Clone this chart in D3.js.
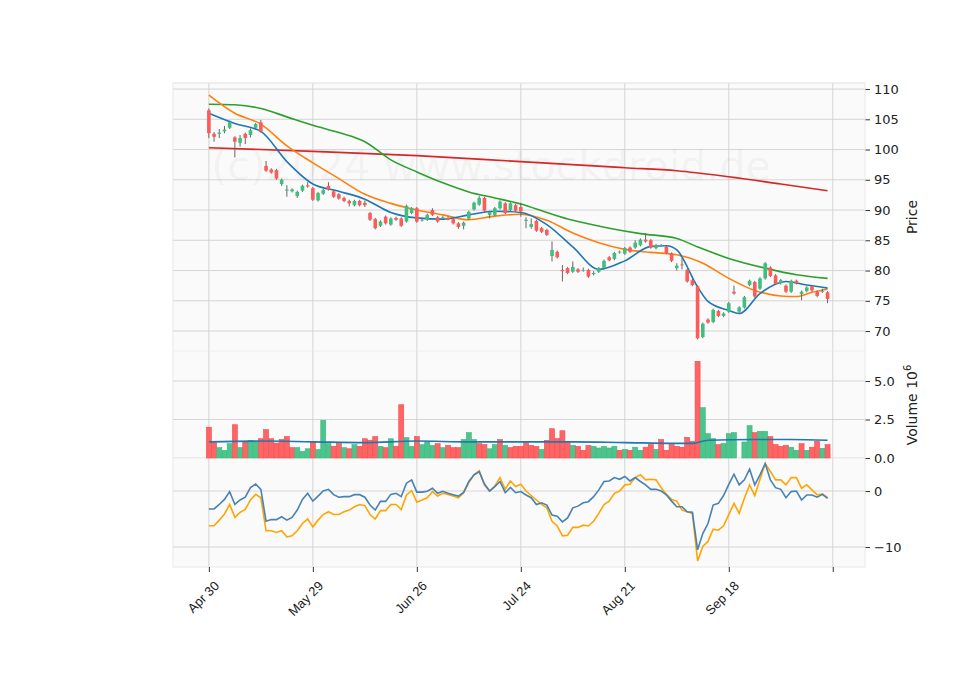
<!DOCTYPE html>
<html><head><meta charset="utf-8">
<script src="https://cdn.jsdelivr.net/npm/d3@7/dist/d3.min.js"></script>
<style>body{margin:0;background:#fff}svg{font-family:"DejaVu Sans",sans-serif}</style>
</head><body><svg id="c" width="960" height="690"></svg>
<script>
const tickIdx=[0,20,40,60,80,100,120];
const tickLabels=["Apr 30","May 29","Jun 26","Jul 24","Aug 21","Sep 18",""];
// [open, high, low, close]
const ohlc=[[106.5,106.8,101.9,102.7],[102.6,102.9,101.3,102.1],[102.6,103.4,101.9,102.8],[103.0,103.9,102.7,103.3],[103.6,104.8,103.4,104.5],[102.0,102.2,98.7,101.3],[101.1,102.4,100.5,101.9],[102.6,102.8,100.9,101.9],[102.4,103.5,102.0,103.2],[103.6,104.4,103.3,104.2],
[104.5,104.9,102.8,103.0],[97.3,98.1,96.3,96.5],[96.7,96.9,96.0,96.2],[96.6,96.8,95.0,95.2],[94.3,95.2,94.0,95.0],[93.2,94.1,92.2,93.4],[93.1,93.6,92.9,93.4],[92.3,93.2,92.0,93.0],[93.2,94.2,93.0,94.0],[94.1,94.6,93.7,93.9],
[93.6,93.8,91.5,91.7],[91.6,93.0,91.4,92.8],[92.7,93.5,92.5,93.3],[94.0,94.6,93.2,93.4],[93.1,93.3,92.0,92.2],[92.6,92.8,91.7,91.9],[92.0,92.2,91.3,91.5],[91.5,91.7,90.6,91.1],[90.8,91.7,90.6,91.5],[91.5,91.7,90.6,90.8],
[91.2,91.6,90.5,90.8],[89.5,89.7,88.2,88.4],[88.5,88.7,86.8,87.0],[87.4,88.3,87.2,88.1],[88.9,89.1,87.6,87.8],[87.6,88.8,87.4,88.6],[88.7,88.9,88.2,88.4],[88.6,88.8,87.2,87.4],[88.1,90.9,87.9,90.7],[89.5,90.5,89.3,90.3],
[90.3,90.5,87.9,88.1],[88.3,88.6,88.1,88.4],[88.4,89.4,88.2,89.2],[90.0,90.3,89.0,89.2],[88.8,89.0,87.9,88.1],[88.6,89.0,88.4,88.8],[88.7,88.9,88.3,88.4],[88.5,88.7,87.6,87.8],[87.8,88.0,86.9,87.2],[87.4,88.1,86.8,87.9],
[88.6,89.9,88.4,89.7],[90.1,91.4,89.9,91.2],[90.9,92.3,90.7,92.0],[92.0,92.2,89.7,89.9],[89.2,89.9,88.6,89.7],[89.2,90.5,89.0,90.3],[90.3,91.6,90.1,91.4],[91.1,91.3,89.3,89.5],[90.0,91.3,89.8,91.1],[90.8,91.0,89.7,89.9],
[90.5,91.2,88.9,89.8],[88.2,88.8,87.0,88.4],[87.2,88.6,86.9,87.7],[88.2,88.4,86.4,86.6],[87.0,87.2,86.2,86.4],[86.7,86.9,85.7,85.9],[82.4,84.8,81.5,83.4],[83.1,83.3,82.0,82.2],[80.1,80.9,78.2,79.9],[80.4,80.6,79.4,79.6],
[79.8,81.5,79.6,80.6],[80.2,80.4,79.6,79.8],[80.0,80.5,79.8,80.1],[80.1,80.3,78.8,79.0],[79.4,79.9,79.2,79.6],[79.8,80.6,79.6,80.4],[80.4,81.8,80.2,81.6],[82.2,82.4,81.5,81.7],[81.9,83.1,81.7,82.9],[83.0,83.3,82.8,83.1],
[82.8,83.9,82.6,83.7],[83.8,84.0,82.9,83.1],[83.8,85.0,83.6,84.6],[84.2,85.3,84.0,85.1],[85.1,86.2,84.6,84.8],[85.0,85.2,83.6,83.8],[83.7,84.4,83.5,84.2],[84.1,84.4,84.0,84.2],[83.9,84.1,82.7,82.9],[82.8,83.0,81.4,81.6],
[80.4,81.2,80.0,80.8],[81.0,82.0,80.2,80.9],[80.1,80.3,78.0,78.2],[78.4,78.6,77.4,77.6],[77.4,77.6,68.6,68.8],[69.0,71.4,68.8,71.2],[71.9,72.1,71.2,71.4],[71.5,73.7,71.3,73.5],[73.3,73.5,72.3,72.5],[72.5,73.1,72.3,72.9],
[73.2,74.8,73.0,74.6],[76.5,77.5,76.0,76.2],[73.2,74.1,73.0,73.9],[73.9,75.8,73.7,75.6],[77.6,78.5,77.4,78.3],[78.1,78.3,75.5,75.7],[77.0,78.9,76.8,78.7],[78.7,81.4,78.5,81.2],[80.5,80.7,78.9,79.1],[79.2,79.4,77.6,77.8],
[77.9,78.6,77.7,78.4],[77.5,77.7,76.3,76.5],[76.5,78.5,76.3,78.3],[78.3,78.5,77.7,77.9],[76.1,76.7,75.1,76.5],[76.6,77.4,76.4,77.2],[77.4,77.6,76.5,76.7],[76.5,76.7,75.6,75.8],[76.5,77.0,76.3,76.6],[76.4,76.6,74.6,75.3]];
const volume=[2.0,1.0,.67,.5,.93,2.16,.67,1.04,1.15,1.04,1.25,1.84,1.25,.97,1.2,1.39,.67,.67,.43,.6,1.04,.56,2.45,.93,.76,.93,.67,.6,.87,.76,1.25,1.15,1.39,.76,.67,1.25,.76,3.46,1.32,.76,1.39,.87,1.04,.82,.93,.67,.82,.67,.67,1.2,1.65,1.2,.93,.87,.6,.87,1.2,.82,.67,.76,
.76,1.0,.82,.76,.56,1.15,1.9,1.26,1.77,1.0,.82,.76,.5,.82,.76,.65,.76,.65,.76,.5,.56,.5,.7,.5,.7,.87,.56,1.2,.5,.87,.76,.7,1.34,1.08,6.28,3.27,1.58,1.26,.87,.95,1.58,1.65,0,1.04,2.1,1.65,1.73,1.73,1.39,.87,.76,.82,.7,.5,.93,.5,.7,1.08,.63,.87];
const volUp=[0,0,1,1,1,0,1,0,1,1,0,0,0,0,0,0,0,1,1,1,0,1,1,1,0,0,1,0,1,0,0,0,0,1,0,1,0,0,1,1,0,1,1,1,0,1,0,0,0,1,1,1,0,0,1,1,0,1,0,0,
0,0,0,0,1,0,0,0,0,0,1,0,0,0,1,1,1,1,1,0,1,0,1,1,0,0,1,0,0,0,0,0,0,0,0,1,1,1,0,1,1,1,1,1,1,0,1,1,0,0,0,0,1,1,0,1,0,0,1,0];
const volMA=[[0,1.05],[10,1.1],[20,1.05],[30,1.0],[40,1.1],[50,1.05],[60,1.05],[70,1.05],[80,1.0],[90,0.95],[93,0.95],[96,1.15],[105,1.2],[112,1.2],[119,1.15]];
const maBlue=[[0,106],[5,104.3],[10,103],[15,98],[20,94.3],[25,93.1],[30,91.8],[35,89.6],[40,88.7],[45,88.5],[50,89.2],[55,89.8],[60,89.6],[65,87.6],[70,83.9],[75,80.2],[80,81.6],[85,84.0],[88,84.1],[90,83.4],[94,77.3],[96,74.9],[100,73.4],[102,72.9],[106,76.2],[111,78.2],[115,77.6],[119,77.1]];
const maOrange=[[0,109],[5,106],[10,104.2],[15,100.6],[20,97.8],[25,95.2],[30,92.6],[35,91.1],[40,90.0],[45,89.2],[50,88.4],[55,89.0],[60,89.3],[65,88.3],[70,86.2],[75,84.6],[80,83.5],[85,83.0],[90,82.6],[95,81.2],[100,78.7],[105,76.7],[110,75.8],[113,75.7],[116,76.4],[119,76.9]];
const maGreen=[[0,107.5],[5,107.4],[10,106.8],[15,105.4],[20,104.0],[25,102.8],[30,101.3],[35,98.3],[40,96.3],[45,94.5],[50,93.0],[55,92.0],[60,91.0],[65,89.6],[70,88.3],[77,87.0],[83,86.1],[90,85.3],[94,83.9],[100,82.0],[107,80.4],[113,79.3],[119,78.7]];
const maRed=[[0,100.3],[20,99.7],[40,99.0],[60,98.0],[80,97.0],[90,96.5],[100,95.5],[110,94.3],[119,93.2]];
const oscBlue=[-3.2,-3.2,-2.4,-1.5,-0.1,-2.4,-1.6,-1.1,0.6,1.25,0.3,-5.4,-5.1,-5.1,-4.6,-5.2,-4.7,-3.4,-1.5,-0.4,-1.8,-0.9,0,0.3,-0.65,-1.1,-1.0,-1.0,-0.65,-0.65,-1.1,-2.5,-3.4,-1.85,-1.85,-0.6,-0.4,-1.0,1.4,2.0,-0.2,-0.2,-0.05,0.5,-0.4,-0.05,-0.4,-0.65,-0.9,-0.25,1.7,2.9,3.45,1.25,0,0.8,1.7,-0.3,0.65,-0.3,
-0.1,-0.7,-1.2,-2.4,-2.1,-2.5,-4.3,-4.5,-5.5,-4.8,-3.0,-2.7,-2.1,-1.9,-1.0,0.2,1.7,1.8,2.4,2.1,2.6,1.8,2.4,1.7,1.1,0.3,0.3,0,-0.7,-1.8,-2.8,-2.8,-3.7,-3.8,-10.5,-7.6,-5.8,-2.5,-2.2,-0.8,1.2,3.0,1.1,2.0,3.9,1.1,2.9,4.9,2.0,0.6,0.3,-1.2,-0.1,0,-1.6,-0.7,-0.7,-1.1,-0.6,-1.3];
const oscOrange=[-6.2,-6.2,-5.2,-4.1,-2.4,-4.7,-3.8,-3.3,-1.6,-0.6,-1.2,-7.1,-7.1,-7.4,-7.1,-8.2,-8.0,-7.1,-5.8,-5.0,-6.4,-5.2,-4.2,-3.7,-4.2,-4.2,-3.7,-3.4,-2.8,-2.4,-2.6,-4.2,-5.0,-3.5,-3.5,-2.4,-2.4,-3.3,-0.7,0.05,-2.0,-1.6,-1.2,-0.1,-0.9,-0.4,-0.6,-0.9,-1.2,-0.3,1.5,2.9,3.6,1.1,0,0.9,2.4,0.3,1.8,0.8,
1.2,0,-0.8,-1.6,-2.4,-3.0,-5.4,-6.25,-8.0,-7.9,-6.5,-6.5,-6.1,-6.25,-5.4,-4.0,-2.4,-1.8,-0.4,0,1.1,1.2,2.4,2.9,2.0,2.1,2.0,0.6,-0.6,-1.5,-1.8,-3.4,-3.7,-4.0,-12.5,-9.9,-9.0,-6.8,-7.0,-6.2,-4.2,-2.2,-4.0,-1.3,1.1,-0.8,2.1,4.9,3.5,2.0,2.0,1.1,2.4,2.4,0.5,1.1,0.2,-0.7,-0.5,-1.2];
const priceTicks=[70,75,80,85,90,95,100,105,110];
const volTicks=[0,2.5,5.0];
const oscTicks=[0,-10];

const svg=d3.select("#c");
const L=173,R=865;
const x=d3.scaleLinear().domain([-6.9,126.2]).range([L,R]);
const yP=d3.scaleLinear().domain([66.7,111]).range([351,83]);
const yV=d3.scaleLinear().domain([0,6.95]).range([458,351]);
const yO=d3.scaleLinear().domain([-13.57,5.9]).range([567,458]);
const up="#3fbf7f",dn="#ff5a5a",grid="#d0d0d0";
const panels=[[yP,83,351,priceTicks,d3.format("d")],[yV,351,458,volTicks,d3.format(".1f")],[yO,458,567,oscTicks,v=>v<0?"\u2212"+Math.abs(v):String(v)]];
panels.forEach(([y,t,b,ticks,fmt])=>{
  svg.append("rect").attr("x",L).attr("y",t).attr("width",R-L).attr("height",b-t).attr("fill","#fafafa");
  svg.append("line").attr("x1",L).attr("x2",R).attr("y1",t).attr("y2",t).attr("stroke","#eeeeee");
  ticks.forEach(v=>svg.append("line").attr("x1",L).attr("x2",R).attr("y1",y(v)).attr("y2",y(v)).attr("stroke",grid).attr("stroke-width",0.9));
  tickIdx.forEach(i=>svg.append("line").attr("x1",x(i)).attr("x2",x(i)).attr("y1",t).attr("y2",b).attr("stroke",grid).attr("stroke-width",0.9));
  const ax=svg.append("g").attr("transform",`translate(${R},0)`).call(d3.axisRight(y).tickValues(ticks).tickFormat(fmt).tickSize(5).tickPadding(4));
  ax.select(".domain").remove();
  ax.selectAll("line").attr("stroke","#333");
  ax.selectAll("text").attr("font-size",13).attr("fill","#222").attr("font-family","DejaVu Sans");
});
svg.append("rect").attr("x",L).attr("y",83).attr("width",R-L).attr("height",567-83).attr("fill","none").attr("stroke","#e8e8e8");
// watermark
svg.append("text").attr("x",491).attr("y",180).attr("text-anchor","middle").attr("font-size",41).attr("fill","#000").attr("fill-opacity",0.05).text("(c)2024 www.stockdroid.de");
// x axis
const xa=svg.append("g").attr("transform","translate(0,567)").call(d3.axisBottom(x).tickValues(tickIdx).tickFormat((d,i)=>tickLabels[i]).tickSize(5));
xa.select(".domain").remove();
xa.selectAll("line").attr("stroke","#333");
xa.selectAll("text").attr("font-size",13).attr("fill","#222").attr("text-anchor","end").attr("dy",0).attr("transform","translate(5,14) rotate(-45)");
// MAs
const line=(y)=>d3.line().x(d=>x(d[0])).y(d=>y(d[1])).curve(d3.curveMonotoneX);
[[maRed,"#d62728"],[maGreen,"#2ca02c"],[maOrange,"#ff7f0e"],[maBlue,"#1f77b4"]].forEach(([d,c])=>svg.append("path").attr("d",line(yP)(d)).attr("fill","none").attr("stroke",c).attr("stroke-width",1.6));
// candles
const cw=3.6;
ohlc.forEach((d,i)=>{
  const [o,h,l,c]=d; const col=c>=o?up:dn;
  svg.append("line").attr("x1",x(i)).attr("x2",x(i)).attr("y1",yP(h)).attr("y2",yP(l)).attr("stroke","#666").attr("stroke-width",1);
  const top=yP(Math.max(o,c)),bot=yP(Math.min(o,c));
  svg.append("rect").attr("x",x(i)-cw/2).attr("y",top).attr("width",cw).attr("height",Math.max(bot-top,0.8)).attr("fill",col);
});
// volume
const bw=5.0;
volume.forEach((v,i)=>{ if(v<=0) return;
  svg.append("rect").attr("x",x(i)-bw/2).attr("y",yV(v)).attr("width",bw).attr("height",yV(0)-yV(v))
   .attr("fill",volUp[i]?"#4cc48c":"#ff6464").attr("stroke",volUp[i]?"#3db87c":"#f24c4c").attr("stroke-width",0.6);
});
svg.append("path").attr("d",line(yV)(volMA)).attr("fill","none").attr("stroke","#1f77b4").attr("stroke-width",1.6);
// oscillator
const ol=d3.line().x((d,i)=>x(i)).y(d=>yO(d));
svg.append("path").attr("d",ol(oscOrange)).attr("fill","none").attr("stroke","#ffa500").attr("stroke-width",1.6);
svg.append("path").attr("d",ol(oscBlue)).attr("fill","none").attr("stroke","#4682b4").attr("stroke-width",1.6);
// labels
svg.append("text").attr("transform","translate(917,217) rotate(-90)").attr("text-anchor","middle").attr("font-size",14).attr("fill","#222").text("Price");
const vl=svg.append("text").attr("transform","translate(917,405) rotate(-90)").attr("text-anchor","middle").attr("font-size",14).attr("fill","#222");
vl.append("tspan").text("Volume  10");
vl.append("tspan").attr("font-size",10).attr("dy",-6).text("6");
</script></body></html>
